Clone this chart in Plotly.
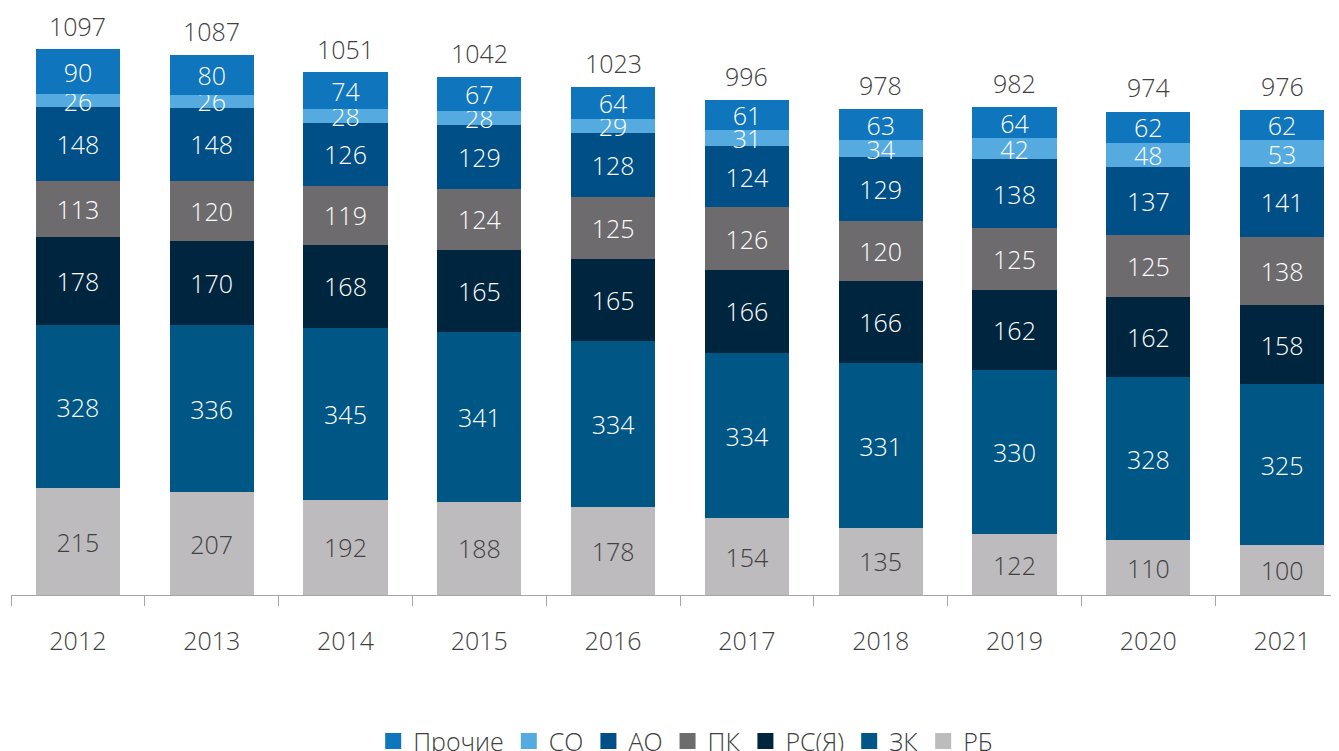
import plotly.graph_objects as go

years = ["2012", "2013", "2014", "2015", "2016", "2017", "2018", "2019", "2020", "2021"]
rb = [215, 207, 192, 188, 178, 154, 135, 122, 110, 100]
zk = [328, 336, 345, 341, 334, 334, 331, 330, 328, 325]
rs = [178, 170, 168, 165, 165, 166, 166, 162, 162, 158]
pk = [113, 120, 119, 124, 125, 126, 120, 125, 125, 138]
ao = [148, 148, 126, 129, 128, 124, 129, 138, 137, 141]
so = [26, 26, 28, 28, 29, 31, 34, 42, 48, 53]
other = [90, 80, 74, 67, 64, 61, 63, 64, 62, 62]
totals = [1097, 1087, 1051, 1042, 1023, 996, 978, 982, 974, 976]

series = [
    ("РБ", rb, "#BDBBBD", "#404040"),
    ("ЗК", zk, "#005785", "white"),
    ("РС(Я)", rs, "#00263F", "white"),
    ("ПК", pk, "#6D6B6E", "white"),
    ("АО", ao, "#004F86", "white"),
    ("СО", so, "#55ABDF", "white"),
    ("Прочие", other, "#0F75BC", "white"),
]

FONT = "Open Sans"
W = 300
fig = go.Figure()
for name, vals, color, tcolor in series:
    fig.add_trace(go.Bar(
        x=years, y=vals, name=name, showlegend=False,
        marker=dict(color=color, line=dict(width=0)),
        text=[str(v) for v in vals],
        textposition="inside", insidetextanchor="middle", textangle=0,
        textfont=dict(family=FONT, size=25, color=tcolor, weight=W),
        cliponaxis=False,
    ))
# legend entries with larger square swatches
for name, vals, color, tcolor in series:
    fig.add_trace(go.Scatter(
        x=[None], y=[None], mode="markers", name=name,
        marker=dict(symbol="square", size=20, color=color),
        showlegend=True,
    ))

for i, t in enumerate(totals):
    fig.add_annotation(x=i, y=t, xref="x", yref="y", text=str(t), showarrow=False,
                       yanchor="bottom", yshift=5,
                       font=dict(family=FONT, size=25, color="#404040", weight=W))

fig.update_layout(
    barmode="stack",
    bargap=0.372,
    width=1339, height=751,
    margin=dict(l=3, r=0, t=0, b=164, autoexpand=False),
    plot_bgcolor="white", paper_bgcolor="white",
    uniformtext=dict(mode="show", minsize=25),
    showlegend=True,
    legend=dict(orientation="h", traceorder="reversed",
                x=0.505, xanchor="center", y=-0.210, yanchor="top",
                font=dict(family=FONT, size=25, color="#404040", weight=W),
                itemwidth=30, tracegroupgap=0),
    xaxis=dict(type="category", range=[-0.5, 9.485],
               showline=True, linecolor="#A6A6A6", linewidth=1,
               ticks="outside", tickson="boundaries", ticklen=10, tickcolor="#A6A6A6",
               tickfont=dict(family=FONT, size=25, color="#404040", weight=W),
               ticklabelstandoff=24, showgrid=False),
    yaxis=dict(range=[0, 1181.5], visible=False, showgrid=False),
)

fig.write_html("out.html")
